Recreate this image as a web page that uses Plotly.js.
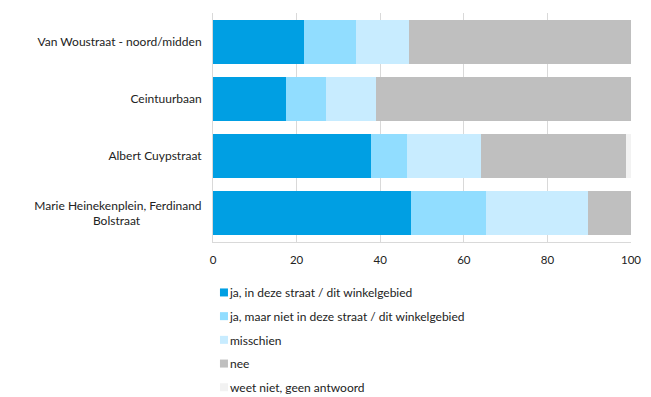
<!DOCTYPE html>
<html>
<head>
<meta charset="utf-8">
<script src="https://cdn.plot.ly/plotly-3.0.1.min.js"></script>
<style>
  html, body { margin: 0; padding: 0; background: #fff; }
  #chart { width: 651px; height: 397px; }
</style>
</head>
<body>
<div id="chart"></div>
<script>
// Winkelgebieden (van boven naar onder)
const categories = [
  "Van Woustraat - noord/midden",
  "Ceintuurbaan",
  "Albert Cuypstraat",
  "Marie Heinekenplein, Ferdinand<br>Bolstraat\u00a0\u00a0\u00a0\u00a0\u00a0\u00a0\u00a0\u00a0\u00a0\u00a0\u00a0\u00a0\u00a0\u00a0\u00a0\u00a0\u00a0\u00a0\u00a0\u00a0"
];

// Percentages per antwoord
const jaInStraat   = [21.7, 17.4, 37.8, 47.4];
const jaElders     = [12.5,  9.6,  8.7, 17.9];
const misschien    = [12.7, 12.1, 17.6, 24.3];
const nee          = [53.1, 60.9, 34.8, 10.4];
const weetNiet     = [ 0.0,  0.0,  1.1,  0.0];

const seriesNames = [
  "ja, in deze straat / dit winkelgebied",
  "ja, maar niet in deze straat / dit winkelgebied",
  "misschien",
  "nee",
  "weet niet, geen antwoord"
];
const seriesValues = [jaInStraat, jaElders, misschien, nee, weetNiet];
const seriesColors = ["#009FE3", "#91DDFF", "#C8ECFF", "#BFBFBF", "#F2F2F2"];

const xTicks = [0, 20, 40, 60, 80, 100];

const traces = seriesNames.map((name, i) => ({
  type: "bar",
  orientation: "h",
  name: name,
  y: categories,
  x: seriesValues[i],
  marker: { color: seriesColors[i], line: { width: 0 } },
  legendgroup: "g" + i,
  hoverinfo: "x+name"
}));

const layout = {
  width: 651,
  height: 397,
  margin: { l: 213, r: 20, t: 13, b: 155, autoexpand: false },
  barmode: "stack",
  bargap: 0.23,
  paper_bgcolor: "#ffffff",
  plot_bgcolor: "#ffffff",
  font: { family: "Lato, 'Open Sans', sans-serif", size: 12, color: "#222222" },
  xaxis: {
    range: [0, 100],
    tickvals: xTicks,
    ticktext: xTicks.map(String),
    showgrid: true,
    gridcolor: "#D9D9D9",
    gridwidth: 1,
    zeroline: false,
    showline: true,
    linecolor: "#D9D9D9",
    linewidth: 1,
    ticks: "",
    ticklabelstandoff: 7,
    tickfont: { size: 11.5 },
    fixedrange: true
  },
  yaxis: {
    autorange: "reversed",
    showgrid: false,
    zeroline: false,
    showline: true,
    linecolor: "#D9D9D9",
    ticks: "",
    ticklabelstandoff: 8,
    tickfont: { size: 12 },
    fixedrange: true
  },
  showlegend: true,
  legend: {
    orientation: "v",
    x: -0.0551,
    xanchor: "left",
    y: -0.157,
    yanchor: "top",
    traceorder: "grouped",
    tracegroupgap: 4.7,
    font: { size: 12 },
    itemwidth: 30,
    bgcolor: "rgba(0,0,0,0)"
  }
};

// Smaller legend swatches, set close to their labels
function tightenLegend(gd) {
  gd.querySelectorAll(".legend .legendsymbols").forEach(g => {
    g.setAttribute("transform", "translate(14,0)");
  });
  gd.querySelectorAll(".legend .legendpoints path").forEach(p => {
    p.setAttribute("d", "M4,4H-4V-4H4Z");
  });
}

const gd = document.getElementById("chart");
Plotly.newPlot(gd, traces, layout, { displayModeBar: false, staticPlot: true }).then(() => {
  tightenLegend(gd);
  gd.on("plotly_afterplot", () => tightenLegend(gd));
});
</script>
</body>
</html>
